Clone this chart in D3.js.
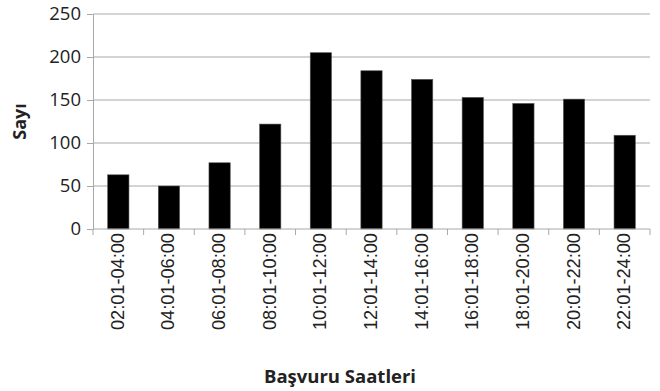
<!DOCTYPE html>
<html>
<head>
<meta charset="utf-8">
<script src="https://cdn.jsdelivr.net/npm/d3@7"></script>
<style>
  html, body { margin: 0; padding: 0; background: #fff; }
  svg { display: block; }
</style>
</head>
<body>
<svg id="chart" width="660" height="391"></svg>
<script>
// Application counts by two-hour time slot
const categories = ["02:01-04:00", "04:01-06:00", "06:01-08:00", "08:01-10:00",
  "10:01-12:00", "12:01-14:00", "14:01-16:00", "16:01-18:00",
  "18:01-20:00", "20:01-22:00", "22:01-24:00"];
const counts = [63, 50, 77, 122, 205, 184, 174, 153, 146, 151, 109];
const yTicks = [0, 50, 100, 150, 200, 250];
const xTitle = "Başvuru Saatleri";
const yTitle = "Sayı";

const svg = d3.select("#chart");
const margin = { left: 93, right: 10, top: 14, bottom: 162 };
const W = 660, H = 391;
const plotW = W - margin.left - margin.right;
const plotH = H - margin.top - margin.bottom;

const x = d3.scaleBand().domain(categories).range([0, plotW]).paddingInner(0.58).paddingOuter(0.29);
const y = d3.scaleLinear().domain([0, 250]).range([plotH, 0]);

const g = svg.append("g").attr("transform", `translate(${margin.left},${margin.top})`);
const gridColor = "#a8a8a8";
const font = "'Open Sans', sans-serif";

// value axis with short outer tick marks
const yAxis = g.append("g")
  .call(d3.axisLeft(y).tickValues(yTicks).tickSize(6).tickPadding(6).tickSizeOuter(0));
yAxis.select(".domain").attr("stroke", gridColor);
yAxis.selectAll(".tick line").attr("stroke", gridColor);
yAxis.selectAll(".tick text")
  .attr("font-family", font).attr("font-size", 18.5).attr("fill", "#222");

// horizontal gridlines
g.append("g").selectAll("line").data(yTicks.filter(d => d > 0)).join("line")
  .attr("x1", 0).attr("x2", plotW)
  .attr("y1", d => y(d)).attr("y2", d => y(d))
  .attr("stroke", gridColor).attr("stroke-width", 1);

// bars
g.append("g").selectAll("rect").data(counts).join("rect")
  .attr("x", (d, i) => x(categories[i]))
  .attr("width", x.bandwidth())
  .attr("y", d => y(d))
  .attr("height", d => y(0) - y(d))
  .attr("fill", "#000")
  .attr("stroke", "#555").attr("stroke-width", 0.6);

// category axis: ticks on slot boundaries, rotated labels
const boundaries = d3.range(categories.length + 1);
const xAxisG = g.append("g").attr("transform", `translate(0,${plotH})`);
xAxisG.append("line").attr("x1", 0).attr("x2", plotW).attr("stroke", gridColor);
xAxisG.selectAll("line.b").data(boundaries).join("line").attr("class", "b")
  .attr("x1", i => i * x.step())
  .attr("x2", i => i * x.step())
  .attr("y1", 0).attr("y2", 6)
  .attr("stroke", gridColor);
xAxisG.selectAll("text").data(categories).join("text")
  .attr("transform", d => `translate(${x(d) + x.bandwidth() / 2 + 5.5},4) rotate(-90)`)
  .attr("text-anchor", "end")
  .attr("font-family", "'Liberation Sans', Arial, sans-serif")
  .attr("font-size", 18.2)
  .attr("fill", "#222")
  .text(d => d);

// axis titles
svg.append("text")
  .attr("x", 340).attr("y", 383)
  .attr("text-anchor", "middle")
  .attr("font-family", font).attr("font-weight", "bold").attr("font-size", 18.5)
  .attr("fill", "#222")
  .text(xTitle);
svg.append("text")
  .attr("transform", `translate(26,${margin.top + plotH / 2}) rotate(-90)`)
  .attr("text-anchor", "middle")
  .attr("font-family", font).attr("font-weight", "bold").attr("font-size", 18)
  .attr("fill", "#222")
  .text(yTitle);
</script>
</body>
</html>
